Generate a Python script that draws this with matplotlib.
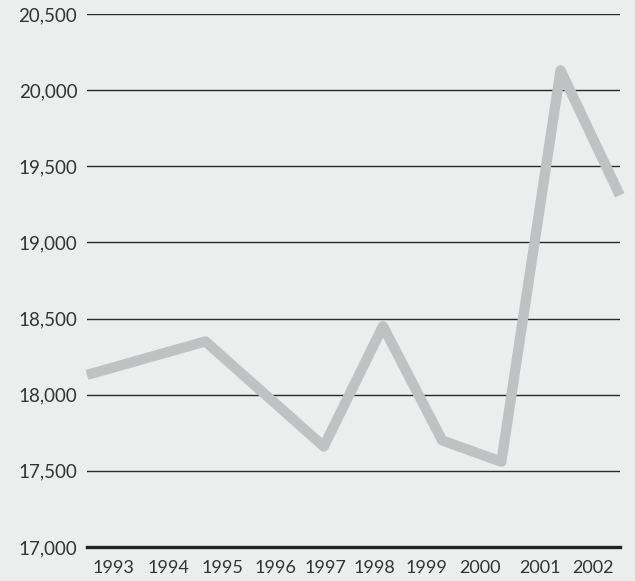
import matplotlib.pyplot as plt
from matplotlib.ticker import FuncFormatter

# line data (no points for 1994 and 1996 in the source)
years = [1993, 1995, 1997, 1998, 1999, 2000, 2001, 2002]
values = [18130, 18350, 17660, 18450, 17700, 17560, 20130, 19310]

tick_labels = ["1993", "1994", "1995", "1996", "1997",
               "1998", "1999", "2000", "2001", "2002"]
y_ticks = [17000, 17500, 18000, 18500, 19000, 19500, 20000, 20500]

# label placement is not aligned with the points in the original
tick_pos = [1993.44, 1994.37, 1995.28, 1996.18, 1997.02,
            1997.86, 1998.74, 1999.64, 2000.65, 2001.55]

BG = "#eceeed"
plt.rcParams["font.family"] = ["Lato", "DejaVu Sans"]

fig = plt.figure(figsize=(6.35, 5.81), dpi=100, facecolor=BG)
ax = fig.add_axes([0.137, 0.0585, 0.839, 0.9174], facecolor=BG)

ax.plot(years, values, color="#c0c1c3", linewidth=7.4,
        solid_joinstyle="round", solid_capstyle="butt", zorder=3,
        clip_on=False)

ax.set_xlim(1993, 2002)
ax.set_ylim(17000, 20500)
ax.set_yticks(y_ticks)
ax.yaxis.set_major_formatter(FuncFormatter(lambda v, p: f"{int(v):,}"))
ax.set_xticks(tick_pos)
ax.set_xticklabels(tick_labels)

ax.grid(axis="y", color="#2a2a2a", linewidth=1.0, zorder=1)
ax.set_axisbelow(True)
for s in ["top", "right", "left"]:
    ax.spines[s].set_visible(False)
ax.spines["bottom"].set_color("#222222")
ax.spines["bottom"].set_linewidth(2.4)
ax.spines["bottom"].set_zorder(4)

ax.tick_params(axis="y", length=0, pad=7, labelsize=13.5, labelcolor="#333333")
ax.tick_params(axis="x", length=0, pad=9, labelsize=13, labelcolor="#333333")

fig.savefig("out.png", dpi=100, facecolor=BG)
